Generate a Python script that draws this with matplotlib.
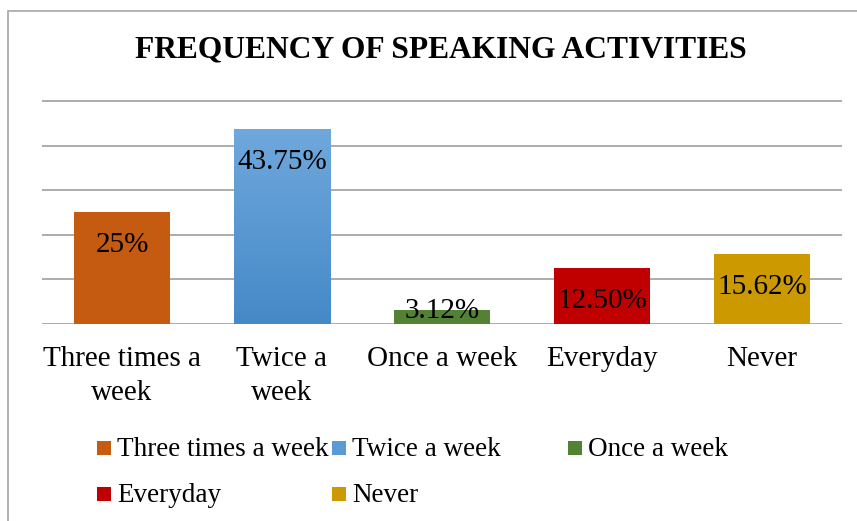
import matplotlib.pyplot as plt
import numpy as np
from matplotlib.colors import LinearSegmentedColormap
from matplotlib.patches import Rectangle

categories = ["Three times a week", "Twice a week", "Once a week", "Everyday", "Never"]
tick_labels = ["Three times a\nweek", "Twice a\nweek", "Once a week", "Everyday", "Never"]
values = [25.0, 43.75, 3.12, 12.50, 15.62]
value_labels = ["25%", "43.75%", "3.12%", "12.50%", "15.62%"]
colors = ["#C55A11", "#5B9BD5", "#548235", "#C00000", "#CC9900"]

W, H = 857, 521
plt.rcParams["font.family"] = ["Liberation Serif", "DejaVu Serif"]

fig = plt.figure(figsize=(W / 100, H / 100), dpi=100)

# outer chart frame (right and bottom edges fall outside the image)
fig.patches.append(Rectangle((8 / W, -0.1), 1.2, (H - 11) / H + 0.1,
                             transform=fig.transFigure, fill=False,
                             edgecolor="#A6A6A6", linewidth=1.2))

ymax = 51
ax = fig.add_axes([42 / W, 197 / H, 800 / W, 223 * ymax / 50 / H])
x = np.arange(len(categories))
bars = ax.bar(x, values, width=0.606, color=colors, zorder=3)

# gradient on the blue bar, like the Excel fill
blue = LinearSegmentedColormap.from_list("blue", ["#4589C8", "#6FA8DC"])
b = bars[1]
grad = np.linspace(0, 1, 256).reshape(-1, 1)
img = ax.imshow(grad, cmap=blue, origin="lower", aspect="auto", zorder=3.5,
                extent=[b.get_x(), b.get_x() + b.get_width(), 0, b.get_height()])
img.set_clip_path(b)

for xi, v, lab in zip(x, values, value_labels):
    off = -23.5 if v > 10 else -0.5
    ax.annotate(lab, (xi, v), xytext=(0, off), textcoords="offset points",
                ha="center", va="center", fontsize=21, zorder=5)

ax.set_xlim(-0.5, len(categories) - 0.5)
ax.set_ylim(0, ymax)
ax.set_yticks(np.arange(0, 51, 10))
ax.yaxis.grid(True, color="#A6A6A6", linewidth=1.3, zorder=0)
ax.set_axisbelow(True)
ax.tick_params(axis="y", left=False, labelleft=False)
ax.tick_params(axis="x", length=0, pad=16)
ax.set_xticks(x)
ax.set_xticklabels(tick_labels, fontsize=21, linespacing=1.4)
for s in ax.spines.values():
    s.set_visible(False)

fig.text(441 / W, 1 - 50 / H, "FREQUENCY OF SPEAKING ACTIVITIES",
         ha="center", va="center", fontsize=22.7, fontweight="bold")

# legend, row-major in three equal columns like Excel
col_x = [97, 332, 568]
row_y = [448, 494]
sq = 14
for i, (name, c) in enumerate(zip(categories, colors)):
    cx = col_x[i % 3]
    cy = row_y[i // 3]
    fig.patches.append(Rectangle((cx / W, (H - cy - sq / 2) / H), sq / W, sq / H,
                                 transform=fig.transFigure, facecolor=c,
                                 edgecolor="none"))
    fig.text((cx + sq + 6) / W, (H - cy - 1) / H, name, ha="left", va="center",
             fontsize=19.5)

fig.savefig("out.png", dpi=100)
